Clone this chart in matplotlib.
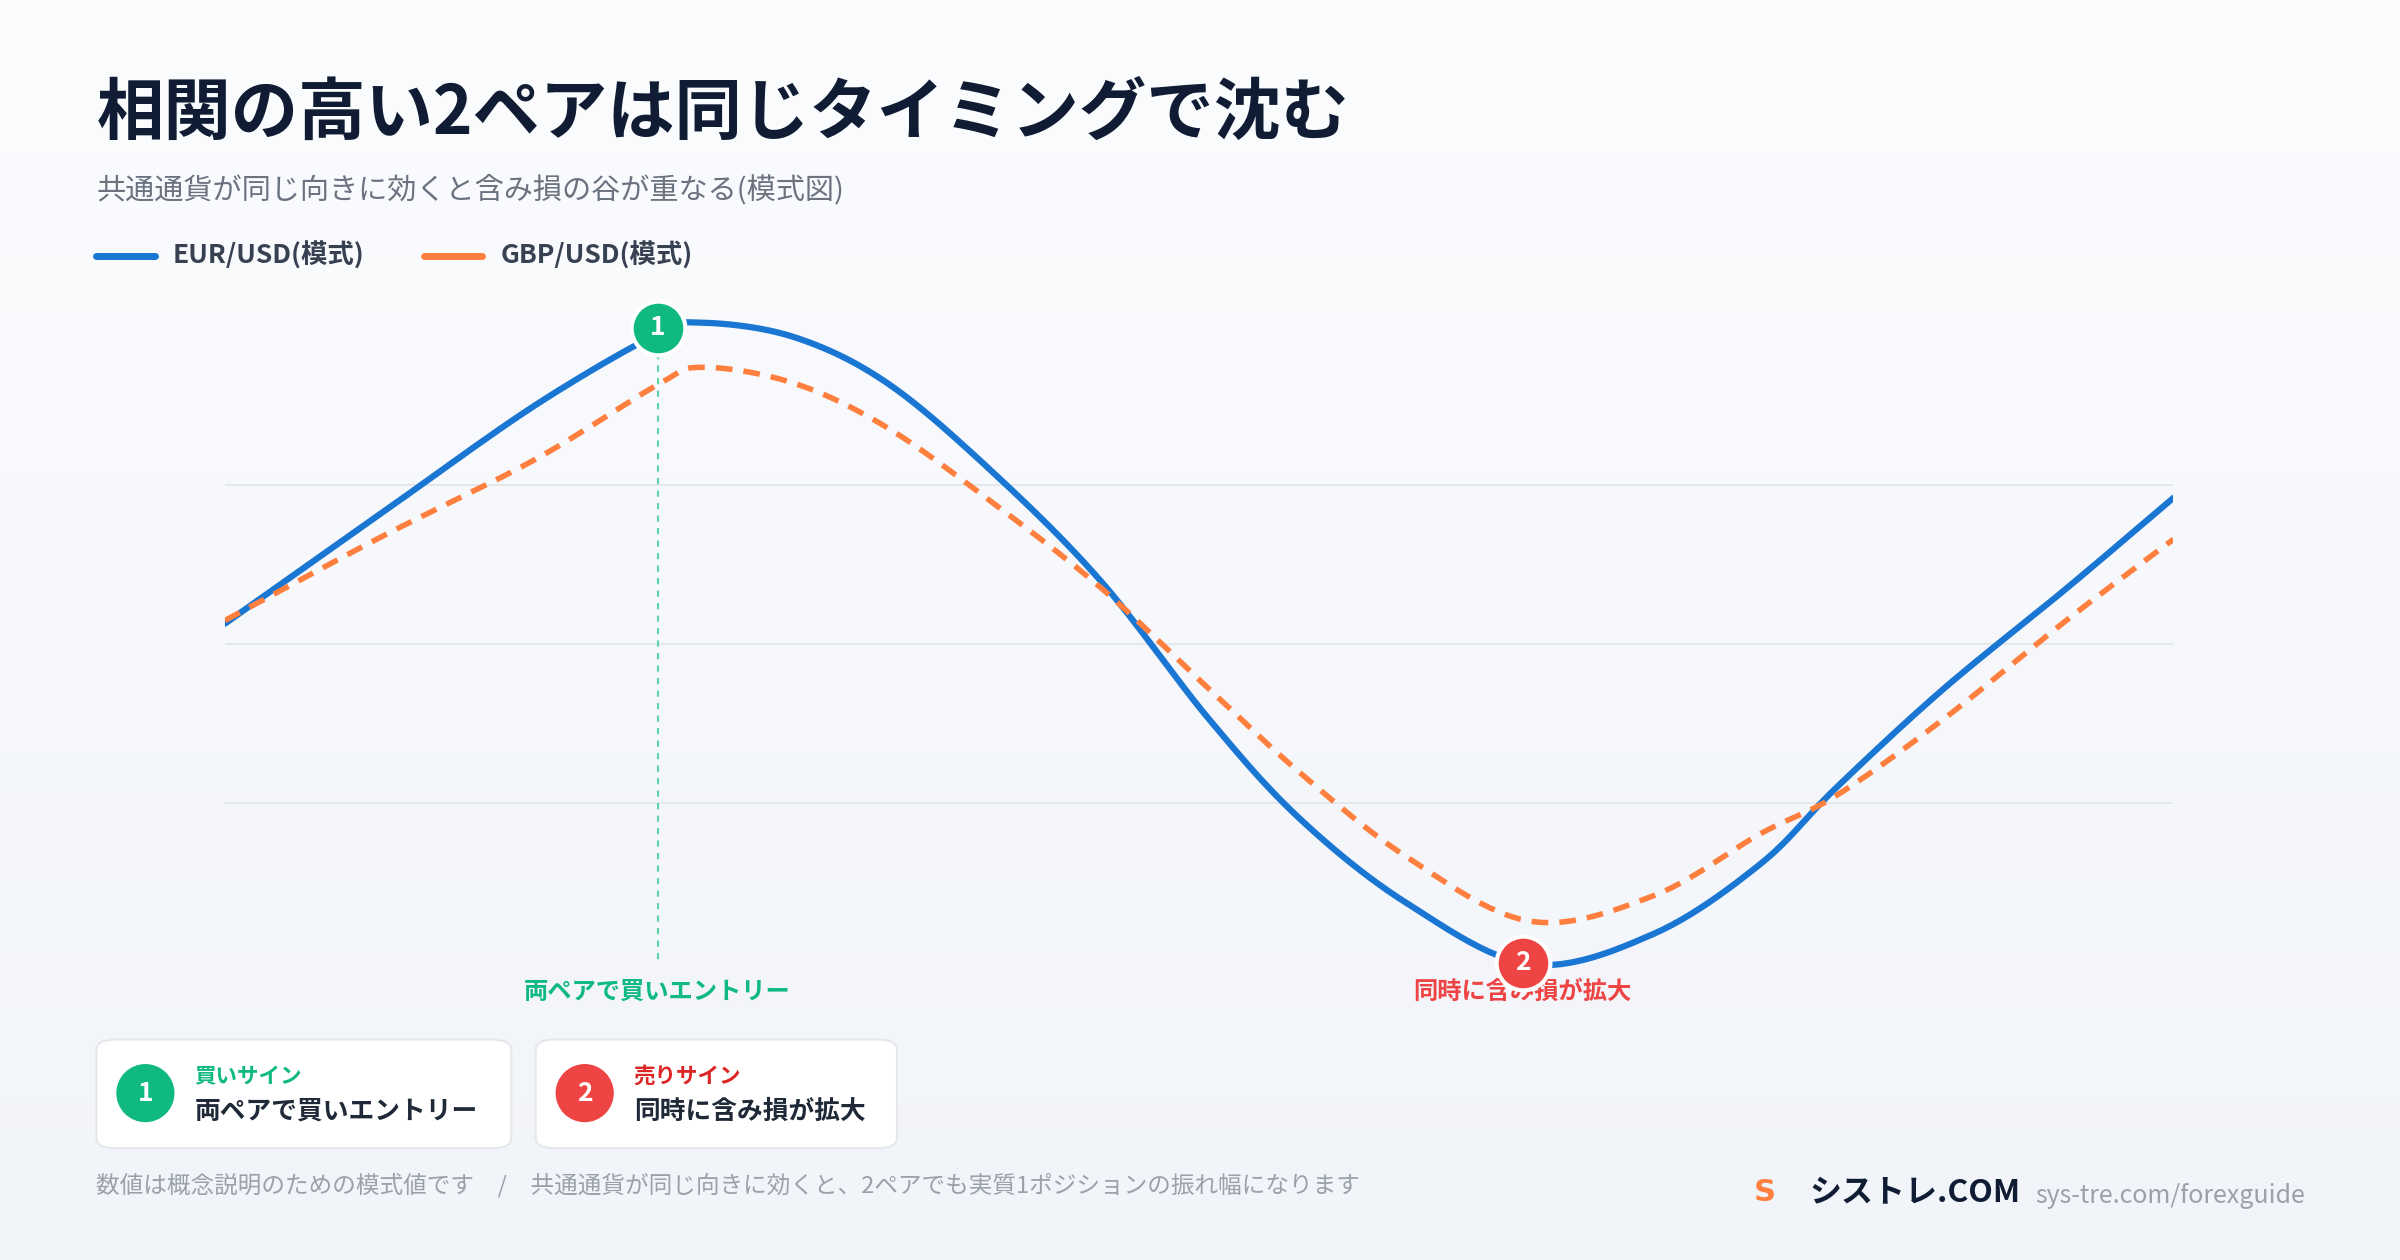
import matplotlib
matplotlib.use("Agg")
import matplotlib.pyplot as plt
import numpy as np
from matplotlib.patches import FancyBboxPatch, Ellipse
from matplotlib.lines import Line2D
from matplotlib.colors import LinearSegmentedColormap

plt.rcParams['font.family'] = ['Noto Sans CJK JP', 'DejaVu Sans']

t = [0, 8.1, 15.9, 22.2, 24.5, 29.2, 34.0, 39.5, 45.0, 50.5, 55.2, 60.7, 67.0, 73.3, 78.8, 82.7, 88.2, 94.5, 100.0]
eur = [1.13, 1.83, 2.50, 2.95, 3.02, 2.93, 2.64, 2.07, 1.39, 0.53, -0.10, -0.63, -1.01, -0.82, -0.38, 0.10, 0.72, 1.35, 1.92]
gbp = [1.15, 1.68, 2.16, 2.63, 2.74, 2.64, 2.36, 1.88, 1.35, 0.72, 0.19, -0.34, -0.74, -0.58, -0.19, 0.05, 0.53, 1.15, 1.66]
grid_vals = [0, 1, 2]
series_names = ["EUR/USD(模式)", "GBP/USD(模式)"]
sig_t = [22.2, 66.6]
sig_v = [2.99, -1.0]
sig_labels = ["両ペアで買いエントリー", "同時に含み損が拡大"]
card_titles = ["買いサイン", "売りサイン"]

BLUE = "#1976d2"; ORANGE = "#ff7f3f"; GREEN = "#10b981"; RED = "#ef4444"
DARK = "#0f1c33"; GREY = "#9aa1ab"

def smooth(x, y, n=12):
    # Catmull-Rom curve through the read points (drawing only)
    x = np.asarray(x, float); y = np.asarray(y, float)
    P = np.column_stack([x, y])
    P = np.vstack([P[0] * 2 - P[1], P, P[-1] * 2 - P[-2]])
    out = []
    for i in range(1, len(P) - 2):
        p0, p1, p2, p3 = P[i - 1], P[i], P[i + 1], P[i + 2]
        for s in np.linspace(0, 1, n, endpoint=False):
            out.append(0.5 * ((2 * p1) + (-p0 + p2) * s + (2 * p0 - 5 * p1 + 4 * p2 - p3) * s ** 2
                              + (-p0 + 3 * p1 - 3 * p2 + p3) * s ** 3))
    out.append(P[-2])
    out = np.array(out)
    return out[:, 0], out[:, 1]

W, H = 1568, 823
def fx(x): return x / W
def fy(y): return 1 - y / H

fig = plt.figure(figsize=(24, 12.6), dpi=100)
bg = fig.add_axes([0, 0, 1, 1], zorder=-10)
grad = np.linspace(0, 1, 256).reshape(-1, 1)
cm = LinearSegmentedColormap.from_list("bg", ["#fbfcfe", "#f1f4f9"])
bg.imshow(grad, aspect="auto", cmap=cm, extent=[0, 1, 0, 1])
bg.axis("off")

fig.text(fx(63), fy(75), "相関の高い2ペアは同じタイミングで沈む", fontsize=48.5, fontweight="bold", color=DARK, va="center")
fig.text(fx(63), fy(124), "共通通貨が同じ向きに効くと含み損の谷が重なる(模式図)", fontsize=21, color="#6b7280", va="center")

for i, (nm, c) in enumerate(zip(series_names, [BLUE, ORANGE])):
    x0 = [63, 277][i]
    fig.add_artist(Line2D([fx(x0), fx(x0 + 38)], [fy(167), fy(167)], color=c, lw=5, solid_capstyle="round"))
    fig.text(fx(x0 + 50), fy(167), nm, fontsize=19, fontweight="bold", color="#374151", va="center")

ax = fig.add_axes([fx(147), fy(660), fx(1420) - fx(147), fy(190) - fy(660)])
ax.set_xlim(0, 100)
ax.set_ylim(-1.30, 3.22)
ax.patch.set_alpha(0)
for s in ax.spines.values(): s.set_visible(False)
ax.set_xticks([]); ax.set_yticks([])
for g in grid_vals:
    ax.axhline(g, color="#e3e6eb", lw=1.3, zorder=0)
ax.plot(*smooth(t, eur), color=BLUE, lw=4.5, solid_capstyle="round", zorder=3)
ax.plot(*smooth(t, gbp), color=ORANGE, lw=4, ls=(0, (3, 2)), zorder=4)
ax.plot([sig_t[0], sig_t[0]], [sig_v[0], -0.99], color="#5fd3a8", lw=1.5, ls=(0, (3, 3)), zorder=2)
for tt, vv, c, n, lab in zip(sig_t, sig_v, [GREEN, RED], ["1", "2"], sig_labels):
    ax.scatter([tt], [vv], s=1500, color=c, edgecolors="white", linewidths=3, zorder=6)
    ax.text(tt, vv, n, color="white", fontsize=19, fontweight="bold", ha="center", va="center", zorder=7)
    ax.text(tt, -1.18, lab, color=c, fontsize=17.5, fontweight="bold", ha="center", va="center", clip_on=False)

cards = [(63, 334, GREEN, "1"), (350, 586, RED, "2")]
for (x0, x1, c, n), tt, lab in zip(cards, card_titles, sig_labels):
    fig.add_artist(FancyBboxPatch((fx(x0), fy(750)), fx(x1) - fx(x0), fy(679) - fy(750),
                                  boxstyle="round,pad=0,rounding_size=0.008", transform=fig.transFigure,
                                  facecolor="white", edgecolor="#e5e7eb", lw=1.5))
    fig.add_artist(Ellipse((fx(x0 + 32), fy(714)), 38 / W, 38 / H, transform=fig.transFigure,
                           facecolor=c, edgecolor="none"))
    fig.text(fx(x0 + 32), fy(714), n, color="white", fontsize=19, fontweight="bold", ha="center", va="center")
    fig.text(fx(x0 + 64), fy(703), tt, color=c if c == GREEN else "#dc2626", fontsize=15.5, fontweight="bold", va="center")
    fig.text(fx(x0 + 64), fy(726), lab, color="#1f2937", fontsize=18.5, fontweight="bold", va="center")

fig.text(fx(63), fy(774), "数値は概念説明のための模式値です　/　共通通貨が同じ向きに効くと、2ペアでも実質1ポジションの振れ幅になります",
         fontsize=17, color=GREY, va="center")
fig.text(fx(1146), fy(779), "S", color=ORANGE, fontsize=22, fontweight="bold", va="center", family="DejaVu Sans")
fig.text(fx(1182), fy(779), "シストレ.COM", color=DARK, fontsize=23, fontweight="bold", va="center")
fig.text(fx(1330), fy(781), "sys-tre.com/forexguide", color=GREY, fontsize=18, va="center")

fig.savefig("out.png", dpi=100)
